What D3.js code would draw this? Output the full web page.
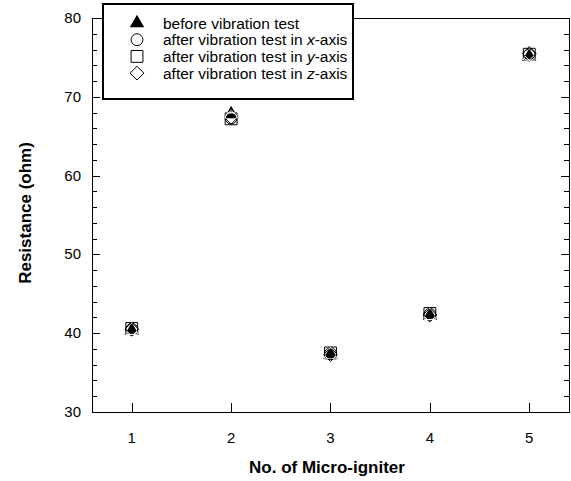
<!DOCTYPE html>
<html>
<head>
<meta charset="utf-8">
<script src="https://cdn.jsdelivr.net/npm/d3@7"></script>
<style>
  body { margin: 0; background: #fff; }
  text { font-family: Arial, 'Liberation Sans', sans-serif; }
</style>
</head>
<body>
<svg width="571" height="481"></svg>
<script>
var igniters = [1, 2, 3, 4, 5];
var beforeTest = [40.3, 67.8, 37.3, 42.2, 75.1];
var afterX = [40.5, 67.3, 37.4, 42.4, 75.3];
var afterY = [40.6, 67.2, 37.5, 42.5, 75.4];
var afterZ = [40.5, 67.4, 37.3, 42.3, 75.5];
var yTicks = [30, 40, 50, 60, 70, 80];

var svg = d3.select('svg');
var margin = {left: 92, right: 2, top: 18, bottom: 69};
var width = +svg.attr('width');
var height = +svg.attr('height');

var x = d3.scaleLinear().domain([0.6, 5.4]).range([margin.left, width - margin.right]);
var y = d3.scaleLinear().domain([30, 80]).range([height - margin.bottom, margin.top]);

// square-ish diamond (d3's is too tall)
var diamond = {
  draw: function(ctx, size) {
    var r = Math.sqrt(size / 2);
    ctx.moveTo(0, -r); ctx.lineTo(r, 0); ctx.lineTo(0, r); ctx.lineTo(-r, 0); ctx.closePath();
  }
};

var triangle = {name: 'before', type: d3.symbolTriangle, size: 90};
var openSeries = [
  {name: 'x', values: afterX, type: d3.symbolCircle, size: 110},
  {name: 'y', values: afterY, type: d3.symbolSquare, size: 140},
  {name: 'z', values: afterZ, type: diamond, size: 95}
];

// frame
svg.append('rect')
  .attr('x', x.range()[0] + 0.5).attr('y', y.range()[1] + 0.5)
  .attr('width', x.range()[1] - x.range()[0])
  .attr('height', y.range()[0] - y.range()[1])
  .attr('fill', 'none').attr('stroke', '#000').attr('stroke-width', 1);

// ticks, inward
var ticks = svg.append('g').attr('stroke', '#000').attr('stroke-width', 1);
d3.range(30, 80.1, 2).forEach(function(v) {
  var len = v % 10 === 0 ? 8 : 5;
  var yy = Math.round(y(v)) + 0.5;
  ticks.append('line').attr('x1', x.range()[0]).attr('x2', x.range()[0] + len).attr('y1', yy).attr('y2', yy);
  ticks.append('line').attr('x1', x.range()[1]).attr('x2', x.range()[1] - len).attr('y1', yy).attr('y2', yy);
});
igniters.forEach(function(v) {
  var xx = Math.round(x(v)) + 0.5;
  ticks.append('line').attr('x1', xx).attr('x2', xx).attr('y1', y.range()[0]).attr('y2', y.range()[0] - 9);
});

// tick labels
svg.append('g').selectAll('text').data(yTicks).enter().append('text')
  .attr('x', 81).attr('y', function(d) { return y(d) + 5; })
  .attr('text-anchor', 'end').attr('font-size', 15).text(function(d) { return d; });
svg.append('g').selectAll('text').data(igniters).enter().append('text')
  .attr('x', function(d) { return x(d); }).attr('y', 443)
  .attr('text-anchor', 'middle').attr('font-size', 15).text(function(d) { return d; });

// axis titles
svg.append('text').attr('x', 327).attr('y', 473).attr('text-anchor', 'middle')
  .attr('font-size', 17).attr('font-weight', 'bold').text('No. of Micro-igniter');
svg.append('text').attr('transform', 'translate(31,213) rotate(-90)')
  .attr('text-anchor', 'middle').attr('font-size', 17).attr('font-weight', 'bold')
  .text('Resistance (ohm)');

// one point: open markers, black triangle, then open markers again in white inside the triangle
var clipId = 0;
function drawPoint(g, cx, triY, openYs) {
  var tri = d3.symbol().type(triangle.type).size(triangle.size)();
  var id = 'tri' + (clipId++);
  g.append('clipPath').attr('id', id).append('path')
    .attr('d', tri).attr('transform', 'translate(' + cx + ',' + triY + ')');
  openSeries.forEach(function(s, k) {
    g.append('path').attr('d', d3.symbol().type(s.type).size(s.size)())
      .attr('transform', 'translate(' + cx + ',' + openYs[k] + ')')
      .attr('fill', 'none').attr('stroke', '#000').attr('stroke-width', 1);
  });
  g.append('path').attr('d', tri).attr('fill', '#000')
    .attr('transform', 'translate(' + cx + ',' + triY + ')');
  var inner = g.append('g').attr('clip-path', 'url(#' + id + ')');
  openSeries.forEach(function(s, k) {
    inner.append('path').attr('d', d3.symbol().type(s.type).size(s.size)())
      .attr('transform', 'translate(' + cx + ',' + openYs[k] + ')')
      .attr('fill', 'none').attr('stroke', '#fff').attr('stroke-width', 1);
  });
}

var pts = svg.append('g');
igniters.forEach(function(n, i) {
  drawPoint(pts, x(n), y(beforeTest[i]), openSeries.map(function(s) { return y(s.values[i]); }));
});

// legend
var legend = svg.append('g');
legend.append('rect').attr('x', 103).attr('y', 4).attr('width', 250).attr('height', 95)
  .attr('fill', '#fff').attr('stroke', '#000').attr('stroke-width', 2);
var labels = [
  ['before vibration test', '', ''],
  ['after vibration test in ', 'x', '-axis'],
  ['after vibration test in ', 'y', '-axis'],
  ['after vibration test in ', 'z', '-axis']
];
var legendSymbols = [triangle].concat(openSeries);
legendSymbols.forEach(function(s, i) {
  var ly = 23 + i * 16.7;
  var p = legend.append('path').attr('d', d3.symbol().type(s.type).size(s.size)())
    .attr('transform', 'translate(137,' + ly + ')');
  if (i === 0) p.attr('fill', '#000');
  else p.attr('fill', 'none').attr('stroke', '#000').attr('stroke-width', 1);
  var t = legend.append('text').attr('x', 163).attr('y', ly + 5.5).attr('font-size', 15.5);
  t.append('tspan').text(labels[i][0]);
  if (labels[i][1]) {
    t.append('tspan').attr('font-style', 'italic').text(labels[i][1]);
    t.append('tspan').text(labels[i][2]);
  }
});
</script>
</body>
</html>
